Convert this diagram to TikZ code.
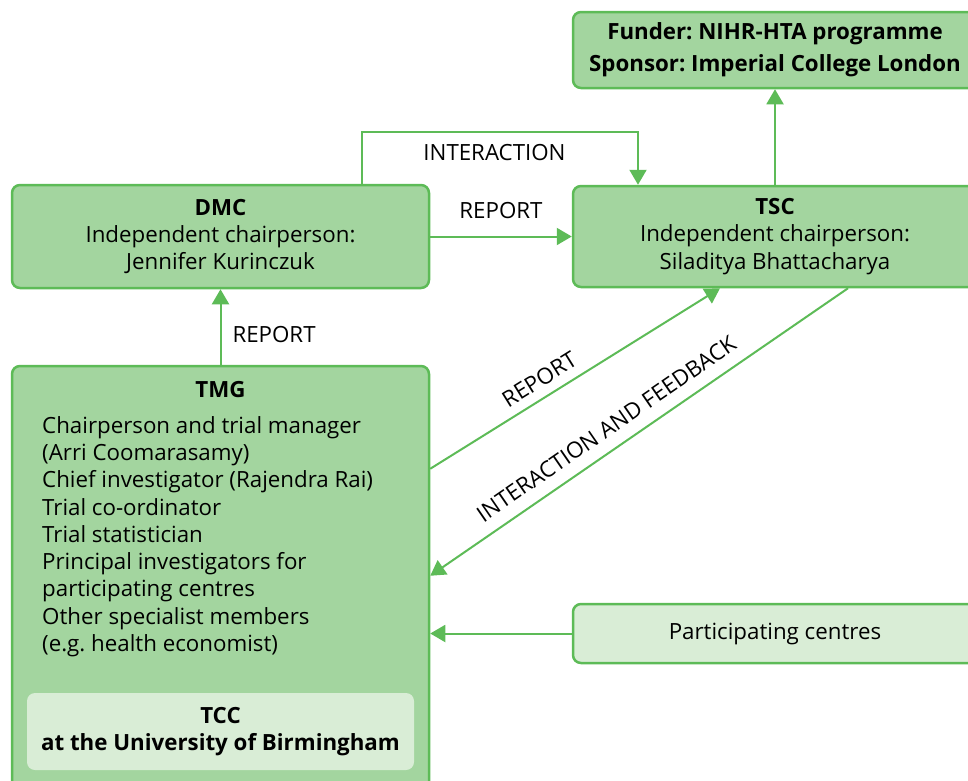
\documentclass[tikz,border=0pt]{standalone}
\usepackage{fontspec}
\setmainfont{Open Sans}
\usetikzlibrary{arrows.meta,calc}
\definecolor{gfill}{HTML}{A3D59F}
\definecolor{gline}{HTML}{5DBB57}
\definecolor{glight}{HTML}{D9EDD6}
\frenchspacing
\tikzset{
  box/.style={draw=gline, line width=2.5pt, fill=gfill, rounded corners=8pt, align=center, inner sep=0pt},
  lbox/.style={draw=gline, line width=2.5pt, fill=glight, rounded corners=8pt, align=center, inner sep=0pt},
  inbox/.style={fill=glight, rounded corners=8pt, align=center, inner sep=0pt},
  conn/.style={draw=gline, line width=2pt, -{Triangle[length=15pt,width=17pt]}},
  lbl/.style={text=black, inner sep=2pt},
  every node/.style={font=\fontsize{22.3}{27.3}\selectfont}
}
\begin{document}
\begin{tikzpicture}[x=1pt,y=-1pt]
\useasboundingbox (0,0) rectangle (968,780);
\clip (0,0) rectangle (968,780);
% boxes
\node[box, minimum width=404pt, minimum height=76pt] (funder) at (775,50)
  {\textbf{Funder: NIHR-HTA programme}\\[5pt]\textbf{Sponsor: Imperial College London}};
\node[box, minimum width=404pt, minimum height=101pt] (tsc) at (775,236.5)
  {\textbf{TSC}\\Independent chairperson:\\Siladitya Bhattacharya};
\node[box, minimum width=417pt, minimum height=103pt] (dmc) at (220.5,236.5)
  {\textbf{DMC}\\Independent chairperson:\\Jennifer Kurinczuk};
\node[box, minimum width=417pt, minimum height=424pt] (tmg) at (220.5,578) {};
\node[lbox, minimum width=404pt, minimum height=59pt] (pc) at (775,633.5) {Participating centres};
% TMG content
\node[anchor=base, inner sep=0pt] (tmgt) at (220.5,397) {\textbf{TMG}};
\node[anchor=north west, align=left, inner sep=0pt] (tmgl) at (42,416)
  {Chairperson and trial manager\\(Arri Coomarasamy)\\Chief investigator (Rajendra Rai)\\Trial co-ordinator\\Trial statistician\\Principal investigators for\\participating centres\\Other specialist members\\(e.g. health economist)};
\node[inbox, minimum width=387pt, minimum height=77pt] (tcc) at (220.5,731.5)
  {\textbf{TCC}\\\textbf{at the University of Birmingham}};
% connectors
\draw[conn] (dmc.east) -- node[lbl, above=15pt] {REPORT} (tsc.west);
\draw[conn] ($(dmc.north)+(141.5,0)$) -- ++(0,-52) coordinate (ia)
  -| node[lbl, pos=0.24, below=10pt] {INTERACTION} ($(tsc.north)+(-137,0)$);
\draw[conn] (tsc.north) -- (funder.south);
\draw[conn] (tmg.north) -- node[lbl, right=9pt, pos=0.4] {REPORT} (dmc.south);
\draw[conn] ($(tmg.north east)+(0,104)$) -- node[lbl, sloped, above=7pt, pos=0.41] {REPORT} ($(tsc.south)+(-55,0)$);
\draw[conn] ($(tsc.south)+(73,0)$) -- node[lbl, sloped, above=10pt, pos=0.55] {INTERACTION AND FEEDBACK} ($(tmg.north east)+(0,211)$);
\draw[conn] (pc.west) -- (pc.west -| tmg.east);
\end{tikzpicture}
\end{document}
